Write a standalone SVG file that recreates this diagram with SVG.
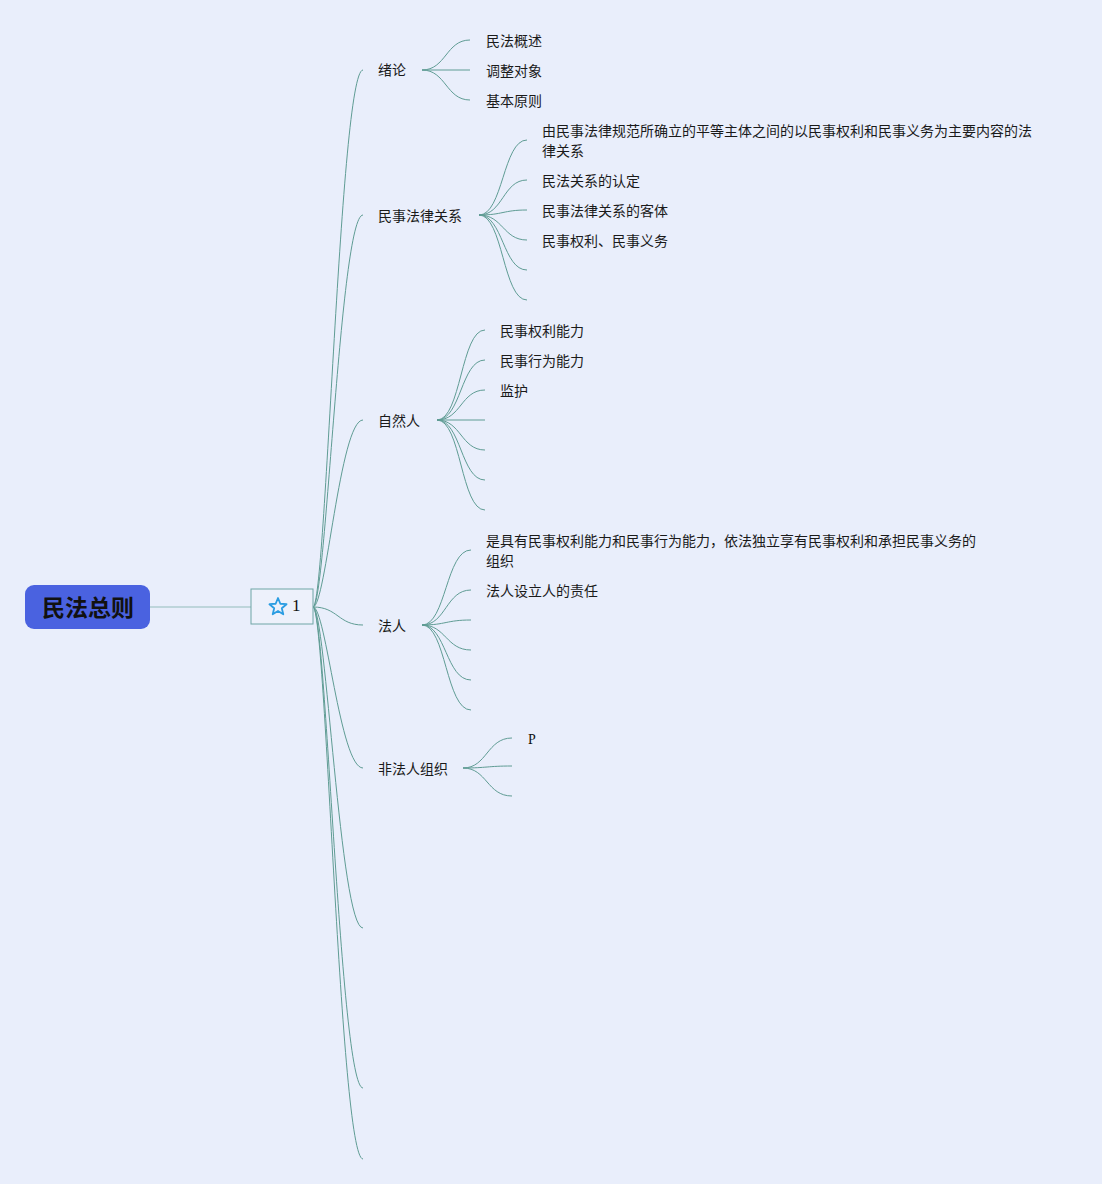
<svg xmlns="http://www.w3.org/2000/svg" width="1102" height="1184" viewBox="0 0 1102 1184">
<style>
.bg{fill:#e9eefb}
.c{fill:none;stroke:#5f9c94;stroke-width:1}
.t{font-family:"Noto Sans CJK SC","Noto Sans",sans-serif;font-size:14px;fill:#1a1a1a}
.s{font-family:"Liberation Serif",serif;fill:#111}
</style>
<rect class="bg" x="0" y="0" width="1102" height="1184"/>
<g id="connectors">
<path d="M150,607 L251,607" fill="none" stroke="#93bcbc" stroke-width="1.2"/>
<path class="c" d="M313,607 C326,607 340,70 363,70"/>
<path class="c" d="M313,607 C326,607 340,215 363,215"/>
<path class="c" d="M313,607 C326,607 340,420 363,420"/>
<path class="c" d="M313,607 C338,607 338,625 363,625"/>
<path class="c" d="M313,607 C326,607 340,768 363,768"/>
<path class="c" d="M313,607 C326,607 340,928 363,928"/>
<path class="c" d="M313,607 C326,607 340,1088 363,1088"/>
<path class="c" d="M313,607 C326,607 340,1159 363,1159"/>
<path class="c" d="M422,70 C446,70 446,40 470,40"/>
<path class="c" d="M422,70 L470,70"/>
<path class="c" d="M422,70 C446,70 446,100 470,100"/>
<path class="c" d="M479,215 C503,215 503,140 527,140"/>
<path class="c" d="M479,215 C503,215 503,180 527,180"/>
<path class="c" d="M479,215 C503,215 503,210 527,210"/>
<path class="c" d="M479,215 C503,215 503,240 527,240"/>
<path class="c" d="M479,215 C503,215 503,270 527,270"/>
<path class="c" d="M479,215 C503,215 503,300 527,300"/>
<path class="c" d="M437,420 C461,420 461,330 485,330"/>
<path class="c" d="M437,420 C461,420 461,360 485,360"/>
<path class="c" d="M437,420 C461,420 461,390 485,390"/>
<path class="c" d="M437,420 L485,420"/>
<path class="c" d="M437,420 C461,420 461,450 485,450"/>
<path class="c" d="M437,420 C461,420 461,480 485,480"/>
<path class="c" d="M437,420 C461,420 461,510 485,510"/>
<path class="c" d="M422,625 C446,625 446,550 471,550"/>
<path class="c" d="M422,625 C446,625 446,590 471,590"/>
<path class="c" d="M422,625 C446,625 446,620 471,620"/>
<path class="c" d="M422,625 C446,625 446,650 471,650"/>
<path class="c" d="M422,625 C446,625 446,680 471,680"/>
<path class="c" d="M422,625 C446,625 446,710 471,710"/>
<path class="c" d="M463,768 C487,768 487,738 512,738"/>
<path class="c" d="M463,768 C487,768 487,766 512,766"/>
<path class="c" d="M463,768 C487,768 487,796 512,796"/>
</g>
<g id="root">
<rect x="25" y="585" width="125" height="44" rx="9" fill="#4a62e0"/>
<text x="88" y="616" text-anchor="middle" font-family="'Noto Sans CJK SC',sans-serif" font-size="23" font-weight="bold" fill="#111">民法总则</text>
</g>
<g id="star-node">
<rect x="251" y="589" width="62" height="35" fill="#edf1fb" stroke="#6fa5a6" stroke-width="1"/>
<polygon points="278,598 280.35,603.76 286.56,604.22 281.8,608.24 283.29,614.28 278,611 272.71,614.28 274.2,608.24 269.44,604.22 275.65,603.76" fill="none" stroke="#2b9de2" stroke-width="1.8" stroke-linejoin="round"/>
<text class="s" x="292" y="611" font-size="17">1</text>
</g>
<g id="n-xulun">
<text class="t" x="378" y="75">绪论</text>
<text class="t" x="486" y="46">民法概述</text>
<text class="t" x="486" y="76">调整对象</text>
<text class="t" x="486" y="106">基本原则</text>
</g>
<g id="n-minshi">
<text class="t" x="378" y="221">民事法律关系</text>
<text class="t" x="542" y="136">由民事法律规范所确立的平等主体之间的以民事权利和民事义务为主要内容的法</text>
<text class="t" x="542" y="156">律关系</text>
<text class="t" x="542" y="186">民法关系的认定</text>
<text class="t" x="542" y="216">民事法律关系的客体</text>
<text class="t" x="542" y="246">民事权利、民事义务</text>
</g>
<g id="n-ziranren">
<text class="t" x="378" y="426">自然人</text>
<text class="t" x="500" y="336">民事权利能力</text>
<text class="t" x="500" y="366">民事行为能力</text>
<text class="t" x="500" y="396">监护</text>
</g>
<g id="n-faren">
<text class="t" x="378" y="631">法人</text>
<text class="t" x="486" y="546">是具有民事权利能力和民事行为能力，依法独立享有民事权利和承担民事义务的</text>
<text class="t" x="486" y="566">组织</text>
<text class="t" x="486" y="596">法人设立人的责任</text>
</g>
<g id="n-feifaren">
<text class="t" x="378" y="774">非法人组织</text>
<text class="s" x="528" y="744" font-size="14">P</text>
</g>
</svg>
